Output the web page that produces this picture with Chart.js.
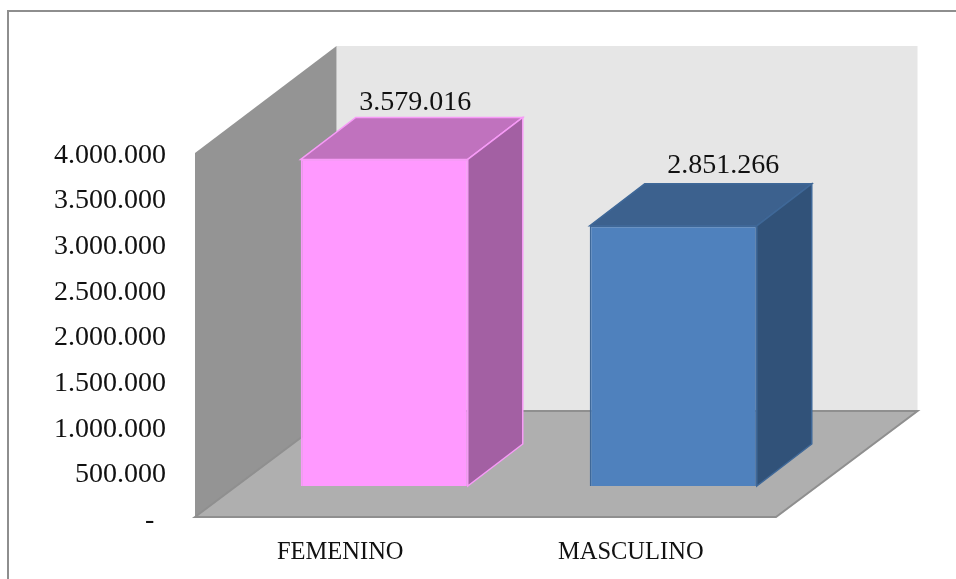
<!DOCTYPE html>
<html>
<head>
<meta charset="utf-8">
<style>
html,body{margin:0;padding:0;background:#fff;overflow:hidden}
#wrap{width:956px;height:579px;position:relative}
</style>
<script src="https://cdn.jsdelivr.net/npm/chart.js@4"></script>
</head>
<body>
<div id="wrap"><canvas id="c" width="956" height="579"></canvas></div>
<script>
const categories = ['FEMENINO', 'MASCULINO'];
const poblacion = [3579016, 2851266];
const dataLabels = ['3.579.016', '2.851.266'];
const tickValues = [0, 500000, 1000000, 1500000, 2000000, 2500000, 3000000, 3500000, 4000000];

const frontColors = ['#FF99FF', '#4F81BD'];
const topColors = ['#C072BE', '#3C618E'];
const sideColors = ['#A360A3', '#315279'];
const edgeColors = ['#F79BF7', '#3F6898'];
const barShiftX = [44, 42.5];
const labelShiftX = [31, 50];
const labelLift = [-16, -19];

const wallDepth = {x: 141.5, y: -107};
const barDepth = {x: 55, y: -42};
const barLift = -32;

function poly(ctx, pts, fill, stroke, lw) {
  ctx.beginPath();
  pts.forEach((p, i) => i ? ctx.lineTo(p[0], p[1]) : ctx.moveTo(p[0], p[1]));
  ctx.closePath();
  ctx.fillStyle = fill;
  ctx.fill();
  if (stroke) { ctx.strokeStyle = stroke; ctx.lineWidth = lw || 1; ctx.stroke(); }
}

function nudgeLabels(scale, dy) {
  if (scale._nudged) return;
  scale._nudged = true;
  const draw = scale.drawLabels;
  scale.drawLabels = function (area) {
    this.ctx.save();
    this.ctx.translate(0, dy);
    draw.call(this, area);
    this.ctx.restore();
  };
}

const scene3d = {
  id: 'scene3d',
  beforeDraw(chart) {
    const ctx = chart.ctx;
    ctx.save();
    ctx.strokeStyle = '#8E8E8E';
    ctx.lineWidth = 2;
    ctx.beginPath();
    ctx.moveTo(8, 600); ctx.lineTo(8, 11); ctx.lineTo(960, 11);
    ctx.stroke();
    ctx.restore();
  },
  afterDatasetsUpdate(chart) {
    chart.getDatasetMeta(0).data.forEach((el, i) => {
      el.x += barShiftX[i];
      el.y += barLift;
      el.base += barLift;
    });
  },
  beforeDatasetsDraw(chart) {
    const ctx = chart.ctx, a = chart.chartArea;
    const d = wallDepth;
    ctx.save();
    poly(ctx, [[a.left + d.x, a.top + d.y], [a.right + d.x, a.top + d.y], [a.right + d.x, a.bottom + d.y], [a.left + d.x, a.bottom + d.y]], '#E6E6E6');
    poly(ctx, [[a.left, a.top], [a.left + d.x, a.top + d.y], [a.left + d.x, a.bottom + d.y], [a.left, a.bottom]], '#949494');
    poly(ctx, [[a.left, a.bottom - 1], [a.left + d.x, a.bottom + d.y], [a.right + d.x, a.bottom + d.y], [a.right, a.bottom - 1]], '#AFAFAF', '#8F8F8F', 2);
    chart.getDatasetMeta(0).data.forEach((el, i) => {
      const half = el.width / 2, l = el.x - half, r = el.x + half, t = el.y, b = el.base;
      const dx = barDepth.x, dy = barDepth.y;
      poly(ctx, [[l, t], [l + dx, t + dy], [r + dx, t + dy], [r, t]], topColors[i], edgeColors[i], 1.5);
      poly(ctx, [[r, t], [r + dx, t + dy], [r + dx, b + dy], [r, b]], sideColors[i], edgeColors[i], 1.5);
    });
    ctx.restore();
  },
  afterDatasetsDraw(chart) {
    const ctx = chart.ctx;
    ctx.save();
    ctx.font = '28px "Liberation Serif"';
    ctx.fillStyle = '#111';
    ctx.textAlign = 'center';
    ctx.textBaseline = 'middle';
    chart.getDatasetMeta(0).data.forEach((el, i) => {
      ctx.fillText(dataLabels[i], el.x + labelShiftX[i], el.y + barDepth.y + labelLift[i] + 1);
    });
    ctx.restore();
  }
};

new Chart(document.getElementById('c'), {
  type: 'bar',
  data: {
    labels: categories,
    datasets: [{
      data: poblacion,
      backgroundColor: frontColors,
      borderColor: edgeColors,
      borderWidth: 1.5,
      barPercentage: 0.575,
      categoryPercentage: 1
    }]
  },
  options: {
    responsive: false,
    animation: false,
    layout: {padding: {top: 153, right: 180, bottom: 0, left: 0}},
    plugins: {legend: {display: false}, tooltip: {enabled: false}},
    scales: {
      x: {
        grid: {display: false, drawTicks: false},
        border: {display: false},
        ticks: {padding: 20, color: '#111', font: {family: '"Liberation Serif"', size: 24.5}, maxRotation: 0},
        afterFit(s) { s.height = 61; }
      },
      y: {
        min: 0,
        max: 4000000,
        afterBuildTicks(s) { s.ticks = tickValues.map(v => ({value: v})); },
        grid: {display: false, drawTicks: false},
        border: {display: false},
        ticks: {
          padding: 29,
          color: '#111',
          font: {family: '"Liberation Serif"', size: 28},
          callback(v) { return v === 0 ? '-\u00A0\u2006' : String(v).replace(/\B(?=(\d{3})+$)/g, '.'); }
        },
        afterFit(s) { s.width = 195; nudgeLabels(s, 2.5); }
      }
    }
  },
  plugins: [scene3d]
});
</script>
</body>
</html>
